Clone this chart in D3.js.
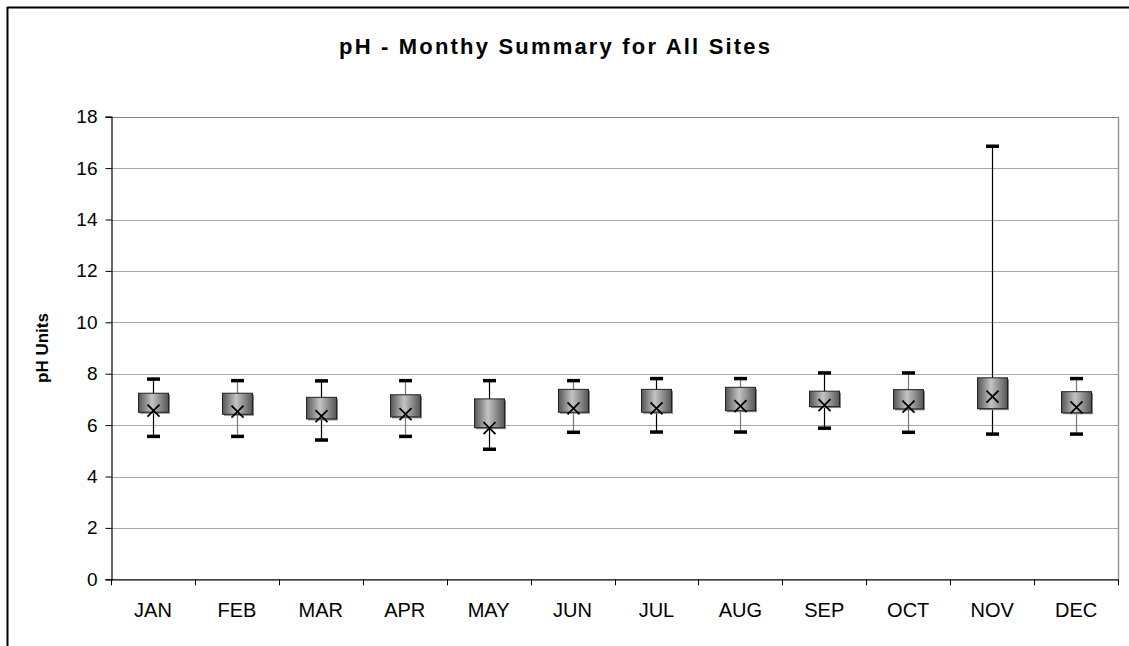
<!DOCTYPE html>
<html>
<head>
<meta charset="utf-8">
<script src="https://cdn.jsdelivr.net/npm/d3@7"></script>
<style>
  html, body { margin: 0; padding: 0; background: #fff; }
  svg { display: block; }
  text { font-family: "Liberation Sans", Arial, sans-serif; fill: #000; }
</style>
</head>
<body>
<svg id="chart" width="1129" height="646"></svg>
<script>
const months = ["JAN","FEB","MAR","APR","MAY","JUN","JUL","AUG","SEP","OCT","NOV","DEC"];
const whiskerHigh = [7.79, 7.73, 7.72, 7.73, 7.73, 7.73, 7.81, 7.81, 8.03, 8.03, 16.85, 7.81];
const boxTop      = [7.24, 7.24, 7.08, 7.18, 7.02, 7.39, 7.39, 7.47, 7.32, 7.38, 7.84, 7.30];
const boxBottom   = [6.50, 6.42, 6.24, 6.32, 5.90, 6.50, 6.50, 6.56, 6.72, 6.63, 6.64, 6.48];
const meanVal     = [6.56, 6.52, 6.35, 6.43, 5.88, 6.65, 6.65, 6.74, 6.78, 6.72, 7.11, 6.69];
const whiskerLow  = [5.56, 5.56, 5.42, 5.56, 5.06, 5.72, 5.73, 5.73, 5.88, 5.72, 5.65, 5.65];
const yTicks = [0, 2, 4, 6, 8, 10, 12, 14, 16, 18];
const title = "pH - Monthy Summary for All Sites";
const yLabel = "pH Units";

const svg = d3.select("#chart");
const L = 111, R = 1118, T = 116.7, B = 579.3;

const x = d3.scaleBand().domain(months).range([L, R]).padding(0);
const y = d3.scaleLinear().domain([0, 18]).range([B, T]);

// outer frame (top and left edges visible)
svg.append("line").attr("x1", 7).attr("x2", 1129).attr("y1", 7.5).attr("y2", 7.5)
  .attr("stroke", "#000").attr("stroke-width", 2);
svg.append("line").attr("x1", 7.5).attr("x2", 7.5).attr("y1", 7).attr("y2", 646)
  .attr("stroke", "#000").attr("stroke-width", 2);

// title
svg.append("text").attr("x", 339).attr("y", 54)
  .attr("font-size", 22).attr("font-weight", "bold")
  .attr("textLength", 431).attr("lengthAdjust", "spacing")
  .text(title);

// gridlines
svg.append("g").selectAll("line").data(yTicks.filter(d => d > 0)).join("line")
  .attr("x1", L).attr("x2", R)
  .attr("y1", d => Math.round(y(d)) + 0.5).attr("y2", d => Math.round(y(d)) + 0.5)
  .attr("stroke", d => d === 18 ? "#808080" : "#a8a8a8").attr("stroke-width", 1);

// right border of plot area
svg.append("line").attr("x1", R + 0.5).attr("x2", R + 0.5).attr("y1", T).attr("y2", B)
  .attr("stroke", "#999").attr("stroke-width", 1.5);

// y axis
const yAxis = svg.append("g").attr("transform", `translate(${L + 0.5},0)`)
  .call(d3.axisLeft(y).tickValues(yTicks).tickSize(6).tickPadding(8).tickFormat(d3.format("d")));
yAxis.select(".domain").attr("stroke", "#000").attr("stroke-width", 1.2);
yAxis.selectAll(".tick line").attr("stroke", "#000");
yAxis.selectAll(".tick text").attr("font-size", 19).attr("font-family", "Liberation Sans, Arial, sans-serif").attr("fill", "#000");

// x axis
const xAxis = svg.append("g").attr("transform", `translate(0,${B})`)
  .call(d3.axisBottom(x).tickSize(0).tickPadding(24));
xAxis.select(".domain").attr("stroke", "#000").attr("stroke-width", 1.2);
xAxis.selectAll(".tick text").attr("font-size", 20).attr("font-family", "Liberation Sans, Arial, sans-serif").attr("fill", "#000");
// category boundary ticks
const bounds = months.map(m => x(m)).concat([R]);
svg.append("g").selectAll("line").data(bounds).join("line")
  .attr("x1", d => Math.round(d) + 0.5).attr("x2", d => Math.round(d) + 0.5)
  .attr("y1", B).attr("y2", B + 6).attr("stroke", "#000").attr("stroke-width", 1);

// y label
svg.append("text").attr("transform", `translate(48,${(T + B) / 2}) rotate(-90)`)
  .attr("text-anchor", "middle").attr("font-size", 17).attr("font-weight", "bold")
  .text(yLabel);

// gradient
const defs = svg.append("defs");
const grad = defs.append("linearGradient").attr("id", "boxGrad")
  .attr("x1", "0%").attr("x2", "100%").attr("y1", "0%").attr("y2", "0%");
grad.append("stop").attr("offset", "0%").attr("stop-color", "#555");
grad.append("stop").attr("offset", "45%").attr("stop-color", "#c4c4c4");
grad.append("stop").attr("offset", "100%").attr("stop-color", "#555");

const data = months.map((m, i) => ({
  m, i, hi: whiskerHigh[i], top: boxTop[i], bot: boxBottom[i], mean: meanVal[i], lo: whiskerLow[i]
}));

const bw = 30, cw = 13;
const g = svg.append("g");
const items = g.selectAll("g.item").data(data).join("g").attr("class", "item")
  .attr("transform", d => `translate(${Math.round(x(d.m) + x.bandwidth() / 2) + 0.5},0)`);

// whiskers
items.append("line").attr("x1", 0).attr("x2", 0)
  .attr("y1", d => y(d.hi)).attr("y2", d => y(d.top))
  .attr("stroke", d => d.i % 2 === 0 ? "#000" : "#777").attr("stroke-width", 1.2);
items.append("line").attr("x1", 0).attr("x2", 0)
  .attr("y1", d => y(d.bot)).attr("y2", d => y(d.lo))
  .attr("stroke", d => d.i % 2 === 0 ? "#000" : "#777").attr("stroke-width", 1.2);
// caps
items.append("rect").attr("x", -cw / 2).attr("width", cw).attr("height", 3.5)
  .attr("y", d => y(d.hi) - 1.75).attr("fill", "#000");
items.append("rect").attr("x", -cw / 2).attr("width", cw).attr("height", 3.5)
  .attr("y", d => y(d.lo) - 1.75).attr("fill", "#000");
// box shadow
items.append("rect").attr("x", -bw / 2 + 1.5).attr("width", bw)
  .attr("y", d => y(d.top) + 1.5).attr("height", d => y(d.bot) - y(d.top))
  .attr("fill", "#888");
// box
items.append("rect").attr("x", -bw / 2).attr("width", bw)
  .attr("y", d => y(d.top)).attr("height", d => y(d.bot) - y(d.top))
  .attr("fill", "url(#boxGrad)").attr("stroke", "#222").attr("stroke-width", 1);
// mean X
const s = 6;
items.append("path")
  .attr("d", d => { const yy = y(d.mean); return `M${-s},${yy - s}L${s},${yy + s}M${-s},${yy + s}L${s},${yy - s}`; })
  .attr("stroke", "#000").attr("stroke-width", 1.8).attr("fill", "none");
</script>
</body>
</html>
